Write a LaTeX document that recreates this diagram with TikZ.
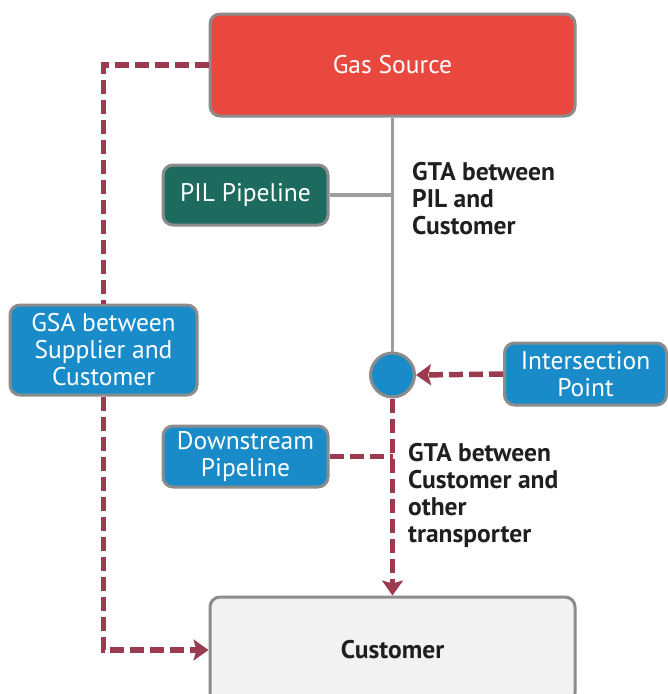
\documentclass[tikz,border=0pt]{standalone}
\usepackage{fontspec}
\setmainfont{PT Sans}
\usetikzlibrary{positioning,arrows.meta}
\definecolor{srcRed}{HTML}{E9483F}
\definecolor{pilGreen}{HTML}{1D6B5F}
\definecolor{boxBlue}{HTML}{1A8BC9}
\definecolor{dashRed}{HTML}{9C3A50}
\definecolor{edgeGray}{HTML}{8C8C8C}
\definecolor{custGray}{HTML}{F2F2F2}

\begin{document}
\begin{tikzpicture}[x=1pt,y=-1pt,
  box/.style={draw=edgeGray, line width=3pt, rounded corners=10pt,
    align=center, text=white, inner sep=0pt,
    font=\fontsize{25.5}{27}\selectfont},
  gtaText/.style={align=left, anchor=west, inner sep=0pt, text=black!88,
    font=\bfseries\fontsize{25.5}{27}\selectfont},
  pipe/.style={draw=edgeGray!85, line width=3.5pt},
  contract/.style={draw=dashRed, line width=5.5pt, dash pattern=on 14pt off 6pt},
  tip/.style={-{Stealth[length=15pt,width=21pt,inset=3pt]}}]
  \useasboundingbox (0,0) rectangle (668,694);
  \node (gasSource) [box, fill=srcRed, minimum width=365pt, minimum height=102pt]
    at (392.5,65) {Gas Source};
  \node (pilPipeline) [box, fill=pilGreen, minimum width=165pt, minimum height=60pt]
    at (245.5,195) {PIL Pipeline};
  \node (gsa) [box, fill=boxBlue, minimum width=187pt, minimum height=90pt]
    at (103.5,350) {GSA between\\Supplier and\\Customer};
  \node (point) [circle, draw=edgeGray, line width=3pt, fill=boxBlue,
    minimum size=44pt, inner sep=0pt] at (392.5,375) {};
  \node (intersection) [box, fill=boxBlue, minimum width=162pt, minimum height=62pt]
    at (585.5,374) {Intersection\\Point};
  \node (downstream) [box, fill=boxBlue, minimum width=165pt, minimum height=61pt]
    at (245.5,456.5) {Downstream\\Pipeline};
  \node (customer) [box, fill=custGray, text=black!88, font=\bfseries\fontsize{25.5}{27}\selectfont,
    minimum width=365pt, minimum height=106pt] at (392.5,650) {Customer};
  \node (gtaPil) [gtaText] at (412,199) {GTA between\\PIL and\\Customer};
  \node (gtaOther) [gtaText] at (408,495) {GTA between\\Customer and\\other\\transporter};

  \draw[pipe] (gasSource.south) -- (point.north);
  \draw[pipe] (pilPipeline.east) -- (pilPipeline.east -| point.north);
  \draw[contract, tip] (intersection.west) -- (point.east);
  \draw[contract, tip] (point.south) -- (customer.north);
  \draw[contract] (downstream.east) -- (downstream.east -| point.south);
  \draw[contract] (gasSource.west) -| (gsa.north);
  \draw[contract, tip] (gsa.south) |- (customer.west);
\end{tikzpicture}
\end{document}
